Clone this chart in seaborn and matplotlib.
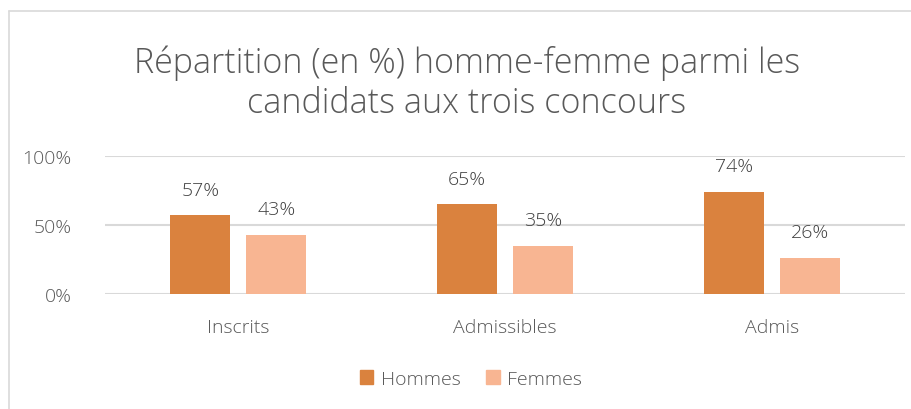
import pandas as pd
import seaborn as sns
import matplotlib.pyplot as plt
from matplotlib.lines import Line2D
from matplotlib.patches import Patch

# Data
categories = ['Inscrits', 'Admissibles', 'Admis']
hommes = [57, 65, 74]
femmes = [43, 35, 26]

data = pd.DataFrame({
    'Categorie': categories * 2,
    'Sexe': ['Hommes'] * 3 + ['Femmes'] * 3,
    'Pourcentage': hommes + femmes,
})

sns.set_style('white')
plt.rcParams['font.family'] = ['Open Sans', 'DejaVu Sans']
text_col = '#595959'
colors = {'Hommes': '#DA823E', 'Femmes': '#F8B592'}

fig = plt.figure(figsize=(9.11, 4.10), dpi=100)
ax = fig.add_axes([105 / 911, 1 - 295 / 410, 800 / 911, 138 / 410])

sns.barplot(data=data, x='Categorie', y='Pourcentage', hue='Sexe',
            palette=colors, saturation=1, width=0.57, gap=0.21, ax=ax,
            legend=False, linewidth=0, zorder=3)

for cont in ax.containers:
    ax.bar_label(cont, labels=[f'{v:.0f}%' for v in cont.datavalues],
                 padding=12, fontsize=14, color='#404040', fontweight='light')

ax.set_ylim(0, 100)
ax.set_yticks([0, 50, 100])
ax.set_yticklabels(['0%', '50%', '100%'])
ax.yaxis.grid(True, color='#D9D9D9', linewidth=1.5, zorder=0)
ax.tick_params(axis='y', length=0, pad=24, labelsize=14, labelcolor=text_col)
ax.tick_params(axis='x', length=0, pad=17, labelsize=14, labelcolor=text_col)
for lab in ax.get_xticklabels() + ax.get_yticklabels():
    lab.set_fontweight('light')
ax.set_xlabel('')
ax.set_ylabel('')
for s in ax.spines.values():
    s.set_visible(False)

# Title
fig.text(467 / 911, 1 - 83 / 410, 'Répartition (en %) homme-femme parmi les\ncandidats aux trois concours',
         ha='center', va='center', fontsize=24.5, color=text_col, linespacing=1.2,
         fontweight='light')

# Legend
handles = [Patch(color=colors['Hommes'], label='Hommes'),
           Patch(color=colors['Femmes'], label='Femmes')]
fig.legend(handles=handles, loc='center', bbox_to_anchor=(471 / 911, 1 - 380 / 410),
           ncol=2, frameon=False, prop={'size': 14, 'weight': 'light'},
           labelcolor=text_col, handlelength=0.7, handleheight=0.7,
           handletextpad=0.4, columnspacing=1.3)

# Chart border
fig.add_artist(Line2D([9 / 911, 9 / 911], [0, 1 - 12 / 410], color='#D9D9D9', lw=1.2))
fig.add_artist(Line2D([9 / 911, 1], [1 - 12 / 410, 1 - 12 / 410], color='#D9D9D9', lw=1.2))

fig.savefig('out.png', dpi=100, facecolor='white')
